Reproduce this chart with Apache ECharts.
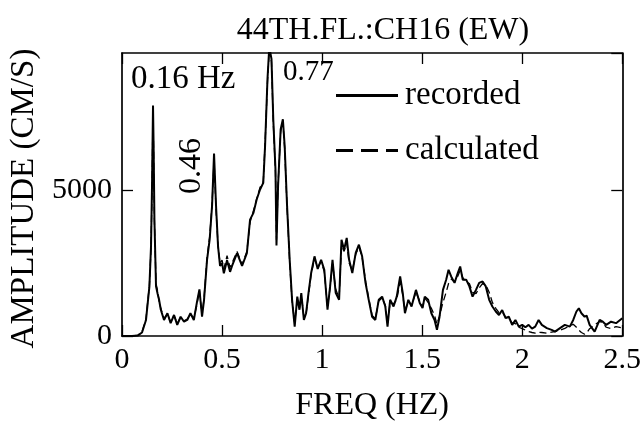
<!DOCTYPE html>
<html>
<head>
<meta charset="utf-8">
<script src="https://cdn.jsdelivr.net/npm/echarts@6/dist/echarts.min.js"></script>
<style>
  html, body { margin: 0; padding: 0; background: #fff; }
  #chart { width: 644px; height: 427px; }
</style>
</head>
<body>
<div id="chart"></div>
<script>
// Fourier amplitude spectra, 44th floor, channel 16 (EW)
const freq = [0.00, 0.05, 0.08, 0.10, 0.12, 0.137, 0.145, 0.15, 0.155, 0.158, 0.162, 0.17, 0.178, 0.185, 0.194,
  0.21, 0.227, 0.243, 0.26, 0.276, 0.293, 0.31, 0.326, 0.342, 0.359, 0.375, 0.387, 0.40, 0.41, 0.425, 0.438,
  0.45, 0.46, 0.47, 0.48, 0.49, 0.50, 0.509, 0.525, 0.54, 0.55, 0.575, 0.60, 0.624, 0.64, 0.657, 0.673, 0.69,
  0.706, 0.715, 0.727, 0.736, 0.747, 0.756, 0.767, 0.772, 0.78, 0.793, 0.804, 0.813, 0.825, 0.838, 0.85, 0.863,
  0.876, 0.887, 0.896, 0.909, 0.92, 0.932, 0.945, 0.962, 0.978, 0.995, 1.011, 1.027, 1.04, 1.052, 1.068, 1.085,
  1.097, 1.11, 1.123, 1.135, 1.151, 1.168, 1.184, 1.20, 1.217, 1.233, 1.25, 1.266, 1.283, 1.30, 1.316, 1.327,
  1.34, 1.357, 1.373, 1.39, 1.403, 1.414, 1.431, 1.447, 1.469, 1.488, 1.502, 1.513, 1.53, 1.546, 1.562, 1.574,
  1.587, 1.604, 1.62, 1.632, 1.645, 1.662, 1.678, 1.69, 1.703, 1.72, 1.736, 1.752, 1.769, 1.785, 1.802, 1.818,
  1.835, 1.851, 1.868, 1.884, 1.90, 1.917, 1.933, 1.95, 1.966, 1.983, 2.00, 2.016, 2.032, 2.049, 2.065, 2.082,
  2.098, 2.123, 2.147, 2.164, 2.189, 2.213, 2.238, 2.255, 2.271, 2.283, 2.296, 2.312, 2.322, 2.337, 2.362, 2.387,
  2.403, 2.42, 2.444, 2.469, 2.50];

const recorded = [0, 0, 20, 120, 550, 1700, 3070, 5140, 7900, 6500, 4000, 1700, 1450, 1250, 900,
  550, 780, 440, 720, 380, 660, 490, 550, 780, 550, 1180, 1600, 660, 1240, 2610, 3300,
  4450, 6250, 4450, 3070, 2400, 2500, 2150, 2600, 2200, 2400, 2840, 2400, 2840, 3990, 4220, 4680, 5020,
  5250, 6510, 8800, 9900, 9500, 7430, 5710, 3100, 5140, 7090, 7430, 6510, 4450, 2610, 1240, 320,
  1350, 900, 1470, 550, 780, 1470, 2150, 2730, 2300, 2610, 2270, 900, 1700, 2610, 1480, 1240,
  3300, 2960, 3360, 2610, 2160, 2850, 3130, 2730, 1820, 1240, 660, 550, 1240, 1350, 1010, 320,
  1240, 1010, 1350, 2040, 1480, 780, 1240, 1010, 1580, 1130, 960, 1350, 1240, 780, 550, 210,
  660, 1580, 1930, 2270, 2040, 1820, 2160, 2380, 1930, 1930, 1700, 1350, 1580, 1820, 1870, 1700,
  1240, 1010, 840, 720, 890, 610, 660, 380, 550, 320, 380, 300, 380, 250, 320, 550,
  380, 270, 210, 150, 270, 380, 320, 550, 840, 950, 780, 660, 700, 380, 150, 550,
  490, 380, 490, 440, 610];

const calculated = [0, 0, 30, 140, 600, 1750, 3000, 5000, 7750, 6300, 3900, 1800, 1550, 1200, 950,
  600, 750, 480, 700, 420, 640, 520, 580, 750, 600, 1100, 1550, 700, 1300, 2700, 3400,
  4500, 6050, 4300, 3100, 2500, 2600, 2300, 2750, 2350, 2500, 2900, 2450, 2900, 3900, 4300, 4700, 5100,
  5300, 6600, 8700, 9800, 9400, 7300, 5600, 3300, 5200, 7000, 7350, 6400, 4400, 2500, 1200, 450,
  1250, 950, 1400, 650, 750, 1400, 2100, 2650, 2350, 2550, 2200, 1000, 1650, 2500, 1600, 1300,
  3100, 2900, 3200, 2500, 2250, 2800, 3050, 2700, 1900, 1300, 700, 600, 1200, 1300, 1050, 450,
  1150, 1100, 1250, 1850, 1400, 850, 1200, 1050, 1500, 1200, 1000, 1300, 1150, 950, 700, 400,
  700, 1150, 1500, 1800, 1950, 1850, 2050, 2250, 2000, 1850, 1800, 1500, 1450, 1650, 1800, 1750,
  1500, 1150, 950, 800, 820, 650, 600, 450, 420, 300, 250, 200, 150, 120, 100, 130,
  120, 100, 130, 150, 200, 260, 350, 400, 300, 200, 120, 60, 100, 250, 380, 500,
  450, 300, 250, 320, 280];

const xTicks = [0, 0.5, 1, 1.5, 2, 2.5];
const yTicks = [0, 5000];
const yMax = 9700;

const serif = '"Liberation Serif", "DejaVu Serif", serif';
const toPairs = (ys) => freq.map((f, i) => [f, ys[i]]);

const chart = echarts.init(document.getElementById('chart'), null, { renderer: 'canvas' });

const frameAxis = {
  axisLine: { show: true, onZero: false, lineStyle: { color: '#000', width: 1.7 } },
  splitLine: { show: false },
  axisTick: { show: true, inside: true, length: 11, lineStyle: { color: '#000', width: 1.3 } }
};

// legend icons: a solid bar and three dashes
const solidIcon = 'path://M0,0h58v3h-58z M58,0h4v3h-4z';
const dashIcon = 'path://M0,0h17v3h-17z M25,0h17v3h-17z M50,0h12v3h-12z';

chart.setOption({
  backgroundColor: '#fff',
  animation: false,
  title: {
    text: '44TH.FL.:CH16 (EW)',
    left: 378, top: 10, textAlign: 'center',
    textStyle: { fontFamily: serif, fontSize: 32, fontWeight: 'normal', color: '#000' }
  },
  legend: {
    orient: 'vertical',
    left: 331, top: 74,
    itemWidth: 66, itemHeight: 3, itemGap: 22,
    data: [
      { name: 'recorded', icon: solidIcon },
      { name: 'calculated', icon: dashIcon }
    ],
    itemStyle: { color: '#000' },
    textStyle: { fontFamily: serif, fontSize: 33, color: '#000' }
  },
  grid: { left: 122, right: 16, top: 53, bottom: 91 },
  xAxis: [
    Object.assign({}, frameAxis, {
      type: 'value', min: xTicks[0], max: xTicks[xTicks.length - 1], interval: 0.5,
      position: 'bottom',
      name: 'FREQ (HZ)', nameLocation: 'middle', nameGap: 54,
      nameTextStyle: { fontFamily: serif, fontSize: 32, color: '#000' },
      axisLabel: { fontFamily: serif, fontSize: 30, color: '#000', margin: 9 }
    }),
    Object.assign({}, frameAxis, {
      type: 'value', min: xTicks[0], max: xTicks[xTicks.length - 1], interval: 0.5,
      position: 'top',
      axisLabel: { show: false }
    })
  ],
  yAxis: [
    Object.assign({}, frameAxis, {
      type: 'value', min: yTicks[0], max: yMax, interval: 5000,
      position: 'left',
      name: 'AMPLITUDE (CM/S)', nameLocation: 'middle', nameGap: 77,
      nameTextStyle: { fontFamily: serif, fontSize: 33, color: '#000', padding: [0, 8, 0, 0] },
      axisLabel: { fontFamily: serif, fontSize: 30, color: '#000', margin: 10, showMaxLabel: false,
        formatter: (v) => String(v) }
    }),
    Object.assign({}, frameAxis, {
      type: 'value', min: yTicks[0], max: yMax, interval: 5000, position: 'right',
      axisLabel: { show: false }
    })
  ],
  series: [
    {
      name: 'recorded', type: 'line', data: toPairs(recorded),
      symbol: 'none', clip: true,
      lineStyle: { color: '#000', width: 2, type: 'solid' },
      itemStyle: { color: '#000' }
    },
    {
      name: 'calculated', type: 'line', data: toPairs(calculated),
      symbol: 'none', clip: true,
      lineStyle: { color: '#000', width: 1.3, type: [7, 4] },
      itemStyle: { color: '#000' }
    }
  ],
  graphic: [
    { type: 'text', left: 131, top: 63,
      style: { text: '0.16 Hz', font: '33px ' + serif, fill: '#000' } },
    { type: 'text', left: 283, top: 58,
      style: { text: '0.77', font: '29px ' + serif, fill: '#000' } },
    { type: 'text', x: 192, y: 166, rotation: Math.PI / 2,
      style: { text: '0.46', font: '32px ' + serif, fill: '#000', align: 'center', verticalAlign: 'middle' } }
  ]
});
</script>
</body>
</html>
